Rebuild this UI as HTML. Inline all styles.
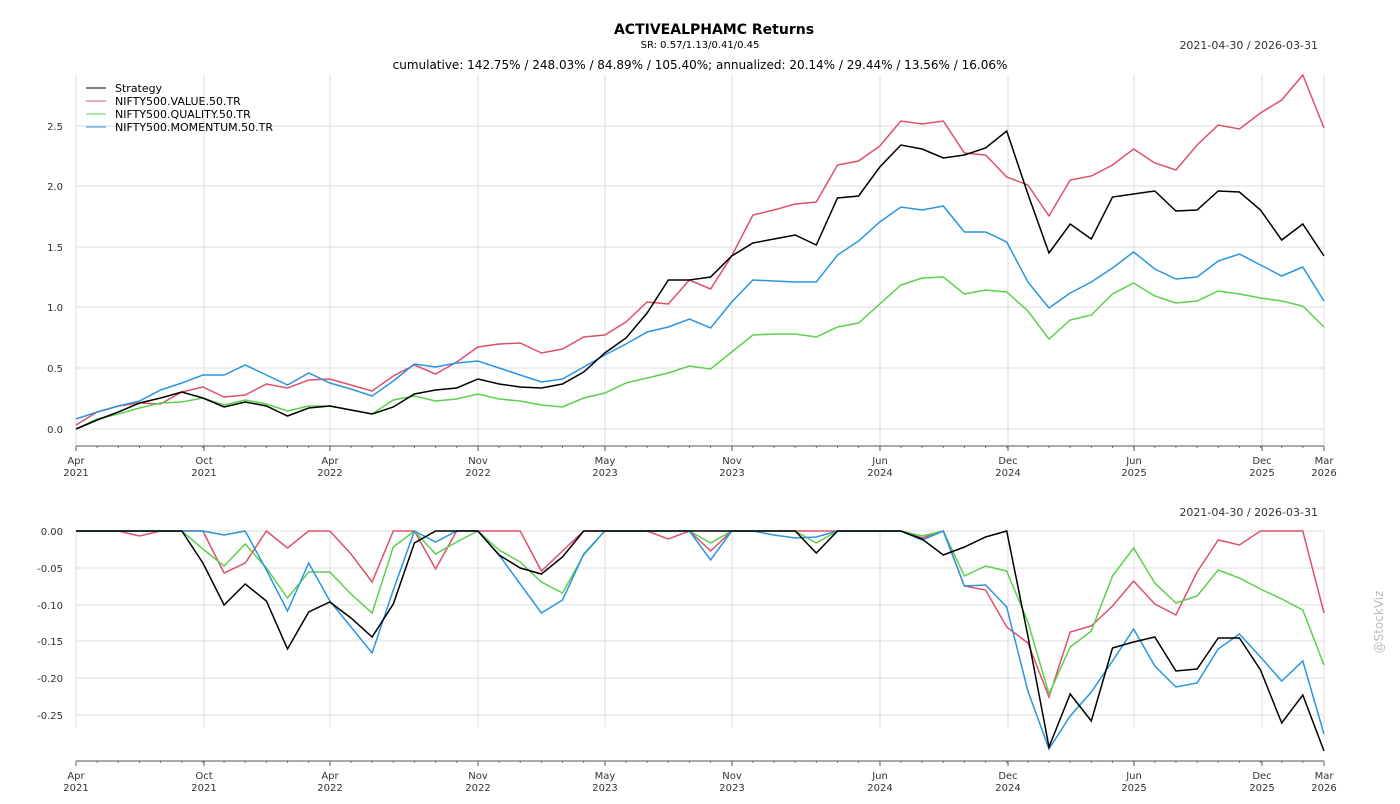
<!DOCTYPE html>
<html><head><meta charset="utf-8"><style>
body{margin:0;background:#fff;width:1400px;height:800px;overflow:hidden;font-family:"DejaVu Sans","Liberation Sans",sans-serif}
svg text{font-family:"DejaVu Sans","Liberation Sans",sans-serif}
</style></head><body>
<svg id="s" width="1400" height="800" xmlns="http://www.w3.org/2000/svg">
<text x="714" y="34" font-size="14" font-weight="bold" text-anchor="middle">ACTIVEALPHAMC Returns</text>
<text x="700" y="48" font-size="10" text-anchor="middle">SR: 0.57/1.13/0.41/0.45</text>
<text x="1318" y="49" font-size="11" text-anchor="end" fill="#333">2021-04-30 / 2026-03-31</text>
<text x="700" y="69" font-size="12" text-anchor="middle">cumulative: 142.75% / 248.03% / 84.89% / 105.40%; annualized: 20.14% / 29.44% / 13.56% / 16.06%</text>
<text x="1318" y="516" font-size="11" text-anchor="end" fill="#333">2021-04-30 / 2026-03-31</text>
<text x="1383" y="622" font-size="12" fill="#bbb" text-anchor="middle" transform="rotate(-90 1383 622)">@StockViz</text>
<g id="g"></g>
<g font-size="11">
<line x1="86" y1="88" x2="106" y2="88" stroke="#000"/><text x="115" y="92">Strategy</text>
<line x1="86" y1="101" x2="106" y2="101" stroke="#e0506a"/><text x="115" y="105">NIFTY500.VALUE.50.TR</text>
<line x1="86" y1="114" x2="106" y2="114" stroke="#5cd04c"/><text x="115" y="118">NIFTY500.QUALITY.50.TR</text>
<line x1="86" y1="127" x2="106" y2="127" stroke="#2a95e0"/><text x="115" y="131">NIFTY500.MOMENTUM.50.TR</text>
</g>
</svg>
<script>
const s=document.getElementById('g');let h='';
const X=[76,204,330,478,605,732,880,1008,1134,1262,1324];
const L=[['Apr','2021'],['Oct','2021'],['Apr','2022'],['Nov','2022'],['May','2023'],['Nov','2023'],['Jun','2024'],['Dec','2024'],['Jun','2025'],['Dec','2025'],['Mar','2026']];
function axes(top,bot,axis,hy,lab,lx){
 X.forEach((x,i)=>{h+=`<line x1="${x}" y1="${top}" x2="${x}" y2="${bot}" stroke="#ddd"/>`;
 h+=`<line x1="${x}" y1="${axis}" x2="${x}" y2="${axis+5}" stroke="#555"/>`;
 h+=`<text x="${x}" y="${axis+18}" font-size="10" text-anchor="middle" fill="#333">${L[i][0]}</text><text x="${x}" y="${axis+30}" font-size="10" text-anchor="middle" fill="#333">${L[i][1]}</text>`;});
 for(let i=0;i<60;i++){let x=76+i*1248/59;h+=`<line x1="${x}" y1="${axis}" x2="${x}" y2="${axis+2}" stroke="#777"/>`;}
 hy.forEach((y,i)=>{h+=`<line x1="76" y1="${y}" x2="1324" y2="${y}" stroke="#ddd"/><text x="63" y="${y+4}" font-size="10" text-anchor="end" fill="#333">${lab[i]}</text>`;});
 h+=`<line x1="76" y1="${axis}" x2="1324" y2="${axis}" stroke="#555"/>`;
}
axes(75,446,446,[429,368,307,247,186,126],['0.0','0.5','1.0','1.5','2.0','2.5']);
axes(531,727,761,[531,568,605,641,678,715],['0.00','-0.05','-0.10','-0.15','-0.20','-0.25']);
function line(ys,c){h+=`<polyline fill="none" stroke="${c}" stroke-width="1.5" points="${ys.map((y,i)=>(76+i*1248/59).toFixed(1)+','+y).join(' ')}"/>`;}
const Z=n=>Array(n).fill(531);
line([425,412,406,403,404,392,387,397,395,384,388,380,379,385,391,376,365,374,362,347,344,343,353,349,337,335,322,302,304,280,289,256,215,210,204,202,165,161,146,121,124,121,153,155,177,185,216,180,176,165,149,163,170,145,125,129,113,100,75,128],'#e0506a');
line([429,419,414,408,403,402,398,405,400,404,411,406,406,410,414,400,396,401,399,394,399,401,405,407,398,393,383,378,373,366,369,352,335,334,334,337,327,323,304,285,278,277,294,290,292,311,339,320,315,294,283,296,303,301,291,294,298,301,306,327],'#5cd04c');
line([419,412,406,401,390,383,375,375,365,375,385,373,383,389,396,381,364,367,363,361,368,375,382,379,367,355,344,332,327,319,328,302,280,281,282,282,255,241,222,207,210,206,232,232,242,282,308,293,282,268,252,269,279,277,261,254,265,276,267,301],'#2a95e0');
line([429,420,412,403,398,392,398,407,402,406,416,408,406,410,414,407,394,390,388,379,384,387,388,384,372,353,338,313,280,280,277,256,243,239,235,245,198,196,167,145,149,158,155,148,131,194,253,224,239,197,194,191,211,210,191,192,210,240,224,256],'#000');
line([531,531,531,536,531,531,531,573,563,531,548,531,531,554,582,531,531,569,531,531,531,531,571,551,531,531,531,531,539,531,551,531,531,531,531,531,531,531,531,531,538,531,586,590,627,643,697,632,626,606,581,604,615,572,540,545,531,531,531,613],'#e0506a');
line([531,531,531,531,531,531,549,566,544,568,598,572,572,594,613,547,531,554,542,531,550,562,582,593,555,531,531,531,531,531,543,531,531,531,531,543,531,531,531,531,536,531,576,566,571,622,694,647,631,576,548,583,603,596,570,578,589,599,610,665],'#5cd04c');
line([531,531,531,531,531,531,531,535,531,570,611,563,601,627,653,590,531,542,531,531,555,584,613,600,554,531,531,531,531,531,560,531,531,535,538,537,531,531,531,531,540,531,586,585,607,691,749,716,692,661,629,666,687,683,649,634,657,681,661,734],'#2a95e0');
line([531,531,531,531,531,531,563,605,584,601,649,612,602,618,637,604,543,531,531,531,555,568,574,557,531,531,531,531,531,531,531,531,531,531,531,553,531,531,531,531,539,555,547,537,531,636,747,694,721,648,642,637,671,669,638,638,670,723,695,751],'#000');
s.innerHTML=h;
</script>
</body></html>
